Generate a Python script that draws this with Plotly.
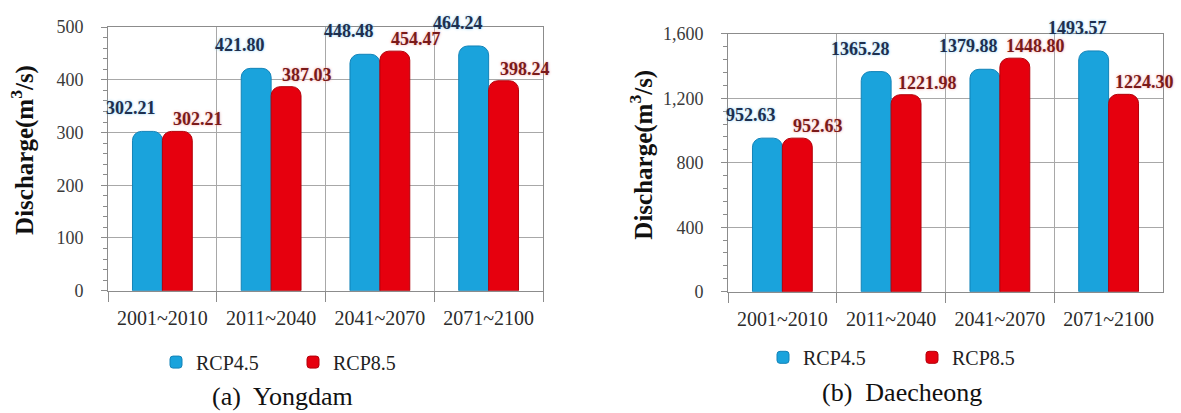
import plotly.graph_objects as go

# ---------------- data ----------------
periods = ["2001~2010", "2011~2040", "2041~2070", "2071~2100"]
yongdam_rcp45 = [302.21, 421.80, 448.48, 464.24]
yongdam_rcp85 = [302.21, 387.03, 454.47, 398.24]
daecheong_rcp45 = [952.63, 1365.28, 1379.88, 1493.57]
daecheong_rcp85 = [952.63, 1221.98, 1448.80, 1224.30]
series_names = ["RCP4.5", "RCP8.5"]
captions = ["(a)  Yongdam", "(b)  Daecheong"]
y_title = "Discharge(m<sup>3</sup>/s)"

# ---------------- style ----------------
W, H = 1181, 413
BLUE = "#1aa3dc"
BLUE_EDGE = "#1383b8"
RED = "#e6000e"
RED_EDGE = "#b3000a"
SERIF = "Liberation Serif, Times New Roman, serif"
GRID = "#a8a8a8"


def px(x):
    return x / W


def py(y):
    return 1 - y / H


fig = go.Figure()

panels = [
    dict(xa="x", ya="y", leg="legend", s45=yongdam_rcp45, s85=yongdam_rcp85),
    dict(xa="x2", ya="y2", leg="legend2", s45=daecheong_rcp45, s85=daecheong_rcp85),
]

for p in panels:
    fig.add_trace(go.Bar(
        x=periods, y=p["s45"], name=series_names[0], xaxis=p["xa"], yaxis=p["ya"],
        legend=p["leg"], marker=dict(color=BLUE, line=dict(color=BLUE_EDGE, width=1)),
        hoverinfo="x+y"))
    fig.add_trace(go.Bar(
        x=periods, y=p["s85"], name=series_names[1], xaxis=p["xa"], yaxis=p["ya"],
        legend=p["leg"], marker=dict(color=RED, line=dict(color=RED_EDGE, width=1)),
        hoverinfo="x+y"))

annotations = []
for p in panels:
    for cat, v in zip(periods, p["s45"]):
        annotations.append(dict(
            x=cat, y=v, xref=p["xa"], yref=p["ya"], text=f"{v:.2f}", showarrow=False,
            xshift=-31, yshift=23, xanchor="center", yanchor="middle",
            font=dict(family=SERIF, size=18, color="#1d2f4f", weight="bold",
                      shadow="0px 0px 3px #8fd0f2")))
    for cat, v in zip(periods, p["s85"]):
        annotations.append(dict(
            x=cat, y=v, xref=p["xa"], yref=p["ya"], text=f"{v:.2f}", showarrow=False,
            xshift=36, yshift=12, xanchor="center", yanchor="middle",
            font=dict(family=SERIF, size=18, color="#7a1a1a", weight="bold",
                      shadow="0px 0px 3px #f4a3a3")))

# y-axis titles
for xc, yc in [(23, 147), (642, 152)]:
    annotations.append(dict(x=px(xc), y=py(yc), xref="paper", yref="paper", text=y_title,
                            textangle=-90, showarrow=False, xanchor="center", yanchor="middle",
                            font=dict(family=SERIF, size=25, color="#111", weight="bold")))
# captions
for (xc, yc), cap in zip([(282, 406), (902, 402)], captions):
    annotations.append(dict(x=px(xc), y=py(yc), xref="paper", yref="paper", text=cap,
                            showarrow=False, xanchor="center", yanchor="middle",
                            font=dict(family=SERIF, size=26, color="#111")))

xaxis_common = dict(
    type="category", tickson="boundaries", showgrid=True, gridcolor=GRID, gridwidth=1,
    showline=True, linecolor="#8c8c8c", linewidth=1, mirror=True,
    ticks="outside", ticklen=10, tickcolor="#8c8c8c", ticklabelstandoff=9, tickangle=0,
    range=[-0.5, len(periods) - 0.5],
    tickfont=dict(family=SERIF, size=20, color="#2b2b2b"), fixedrange=True,
)
yaxis_common = dict(
    showgrid=True, gridcolor=GRID, gridwidth=1, zeroline=False,
    showline=True, linecolor="#8c8c8c", linewidth=1, mirror=True,
    ticks="outside", ticklen=6, tickcolor="#8c8c8c", ticklabelstandoff=14,
    tickfont=dict(family=SERIF, size=18, color="#3a3a3a"), fixedrange=True,
)

fig.update_layout(
    width=W, height=H, margin=dict(l=0, r=0, t=0, b=0),
    paper_bgcolor="white", plot_bgcolor="white",
    barmode="group", bargap=0.45, bargroupgap=0.0, barcornerradius=9,
    showlegend=True,
    xaxis=dict(xaxis_common, domain=[px(108), px(543)], anchor="y"),
    yaxis=dict(yaxis_common, domain=[py(295), py(18)], anchor="x", range=[0, 500],
               dtick=100, minor=dict(dtick=20, ticks="outside", ticklen=4, tickcolor="#8c8c8c")),
    xaxis2=dict(xaxis_common, domain=[px(728), px(1163)], anchor="y2"),
    yaxis2=dict(yaxis_common, domain=[py(296), py(25)], anchor="x2", range=[0, 1600],
                dtick=400, tickformat=",d",
                minor=dict(dtick=80, ticks="outside", ticklen=4, tickcolor="#8c8c8c")),
    legend=dict(orientation="h", x=px(156), y=py(370), xanchor="left", yanchor="middle",
                entrywidth=92, entrywidthmode="pixels",
                font=dict(family=SERIF, size=20, color="#222"), bgcolor="rgba(0,0,0,0)"),
    legend2=dict(orientation="h", x=px(763), y=py(365), xanchor="left", yanchor="middle",
                 entrywidth=104, entrywidthmode="pixels",
                 font=dict(family=SERIF, size=20, color="#222"), bgcolor="rgba(0,0,0,0)"),
    annotations=annotations,
)

fig.write_html("out.html")
